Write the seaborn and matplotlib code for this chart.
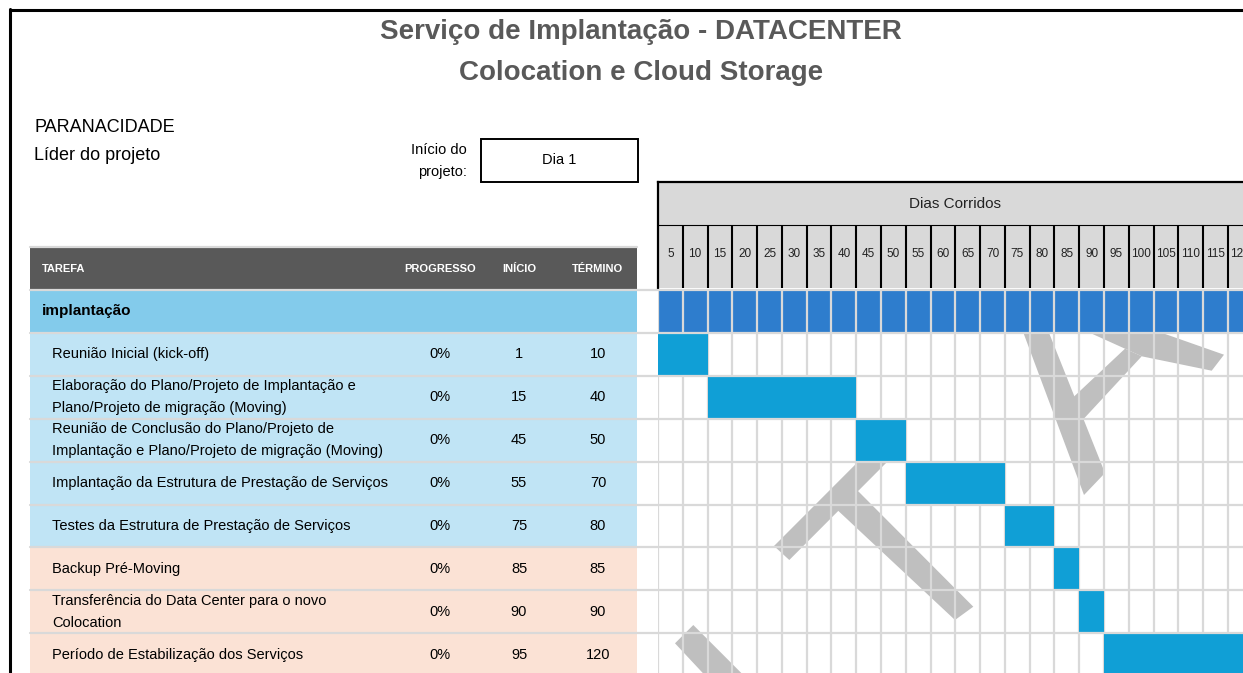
import numpy as np
import matplotlib
matplotlib.use("Agg")
import matplotlib.pyplot as plt
from matplotlib.colors import ListedColormap
from matplotlib.patches import Polygon, Rectangle
from matplotlib.lines import Line2D
import seaborn as sns

# Dados do cronograma
titulo = ["Serviço de Implantação - DATACENTER", "Colocation e Cloud Storage"]
empresa = "PARANACIDADE"
lider = "Líder do projeto"
rotulo_inicio = "Início do\nprojeto:"
inicio_projeto = "Dia 1"

colunas = ["TAREFA", "PROGRESSO", "INÍCIO", "TÉRMINO"]
fase = "implantação"
tarefas = [
    "Reunião Inicial (kick-off)",
    "Elaboração do Plano/Projeto de Implantação e\nPlano/Projeto de migração (Moving)",
    "Reunião de Conclusão do Plano/Projeto de\nImplantação e Plano/Projeto de migração (Moving)",
    "Implantação da Estrutura de Prestação de Serviços",
    "Testes da Estrutura de Prestação de Serviços",
    "Backup Pré-Moving",
    "Transferência do Data Center para o novo\nColocation",
    "Período de Estabilização dos Serviços",
]
grupo = ["implantacao", "implantacao", "implantacao", "implantacao", "implantacao",
         "moving", "moving", "moving"]
progresso = [0, 0, 0, 0, 0, 0, 0, 0]
inicio = [1, 15, 45, 55, 75, 85, 90, 95]
termino = [10, 40, 50, 70, 80, 85, 90, 120]
dias = [5, 10, 15, 20, 25, 30, 35, 40, 45, 50, 55, 60,
        65, 70, 75, 80, 85, 90, 95, 100, 105, 110, 115, 120]

# cores
cor_barra = "#109FD6"
cor_fase = "#2E7DCD"
cor_grade = "#D9D9D9"
cor_linha = {"implantacao": "#C0E4F5", "moving": "#FBE2D5"}

sns.set_theme(style="white")
plt.rcParams["font.family"] = ["Liberation Sans", "DejaVu Sans"]

W, H = 1243, 673
fig = plt.figure(figsize=(W / 100, H / 100), dpi=100)


def px_axes(l, t, r, b):
    return fig.add_axes([l / W, 1 - b / H, (r - l) / W, (b - t) / H])


def fpt(x, y):
    return (x / W, 1 - y / H)


def fline(x0, y0, x1, y1, **kw):
    (a, b), (c, d) = fpt(x0, y0), fpt(x1, y1)
    fig.add_artist(Line2D([a, c], [b, d], transform=fig.transFigure, **kw))


topo = 290
alt = 42.9
esq = 658
larg = 24.78
n_lin = len(tarefas) + 1

# matriz do gantt: 2 = fase, 1 = tarefa
mat = np.full((n_lin, len(dias)), np.nan)
for j, d in enumerate(dias):
    if d >= min(inicio) and d - 4 <= max(termino):
        mat[0, j] = 2
    for i, (s, e) in enumerate(zip(inicio, termino)):
        if d >= s and d - 4 <= e:
            mat[i + 1, j] = 1

ax_g = px_axes(esq, topo, esq + len(dias) * larg, topo + n_lin * alt)
sns.heatmap(mat, ax=ax_g, cmap=ListedColormap([cor_barra, cor_fase]), vmin=0.5, vmax=2.5,
            cbar=False, xticklabels=False, yticklabels=False)
ax_g.collections[0].set_zorder(1)
ax_g.set_facecolor("white")
for s in ax_g.spines.values():
    s.set_visible(False)
xs = np.arange(len(dias) + 1)
ax_g.vlines(xs, 1, n_lin, colors=cor_grade, lw=1.6, zorder=0.8)
ax_g.vlines(xs, 0, 1, colors=cor_grade, lw=1.6, zorder=3)

# marca d'agua cinza
formas = [
    [(1018.6, 320), (1043.9, 320), (1105, 473), (1084, 495)],
    [(1125, 348.7), (1141.7, 356.3), (1078, 425), (1065, 405)],
    [(1066, 322), (1131, 322), (1224, 354.7), (1211.7, 370.7), (1141.7, 356.3), (1125, 348.7)],
    [(774, 546), (789.3, 560), (906, 443), (891.4, 428.4)],
    [(852, 485), (973.3, 606.7), (955, 620), (832, 505)],
    [(693.3, 625), (760, 691.7), (728, 700), (675, 643.3)],
]
for f in formas:
    ax_g.add_patch(Polygon([fpt(x, y) for x, y in f], closed=True, transform=fig.transFigure,
                           facecolor="#BFBFBF", edgecolor="none", zorder=0.3))

# cabeçalho dos dias
ax_h = px_axes(esq, 182, esq + len(dias) * larg, 288)
ax_h.set_facecolor("#D9D9D9")
ax_h.set_xlim(0, len(dias))
ax_h.set_ylim(0, 1)
ax_h.set_xticks([])
ax_h.set_yticks([])
for k, s in ax_h.spines.items():
    s.set_visible(k in ("top", "left"))
    s.set_color("black")
    s.set_linewidth(1.6)
y_div = 63 / 106
ax_h.axhline(y_div, color="black", lw=0.8)
ax_h.vlines(np.arange(1, len(dias)), 0, y_div, colors="black", lw=1.5)
for j, d in enumerate(dias):
    ax_h.text(j + 0.5, y_div / 2 + 0.02, str(d), ha="center", va="center", fontsize=8.5, color="#222222")
ax_h.text(len(dias) / 2, (1 + y_div) / 2, "Dias Corridos", ha="center", va="center", fontsize=11,
          color="#222222")

# tabela
ax_t = px_axes(30, topo - alt, 637, topo + n_lin * alt)
ax_t.set_xlim(30, 637)
ax_t.set_ylim(n_lin, -1)
ax_t.set_xticks([])
ax_t.set_yticks([])
for s in ax_t.spines.values():
    s.set_visible(False)
ax_t.axhspan(-1, 0, color="#595959", lw=0)
ax_t.axhspan(0, 1, color="#83CBEB", lw=0)
for i, g in enumerate(grupo):
    ax_t.axhspan(i + 1, i + 2, color=cor_linha[g], lw=0)

hx = [42, 440, 519, 598]
ax_t.text(hx[0], -0.5, colunas[0], ha="left", va="center", color="white", fontsize=8, fontweight="bold")
for x, c in zip(hx[1:], colunas[1:]):
    ax_t.text(x, -0.5, c, ha="center", va="center", color="white", fontsize=8, fontweight="bold")
ax_t.text(42, 0.5, fase, ha="left", va="center", fontsize=11, fontweight="bold", color="black")
for i in range(len(tarefas)):
    y = i + 1.5
    ax_t.text(52, y, tarefas[i], ha="left", va="center", fontsize=10.5, color="black", linespacing=1.72)
    ax_t.text(hx[1], y, f"{progresso[i]}%", ha="center", va="center", fontsize=10.5, color="black")
    ax_t.text(hx[2], y, str(inicio[i]), ha="center", va="center", fontsize=10.5, color="black")
    ax_t.text(hx[3], y, str(termino[i]), ha="center", va="center", fontsize=10.5, color="black")

# linhas horizontais da grade
fline(30, topo - alt, 637, topo - alt, color=cor_grade, lw=1.6)
for i in range(n_lin + 1):
    y = topo + i * alt
    fline(30, y, W, y, color=cor_grade, lw=1.6)

# textos superiores
fig.text(*fpt(641, 32), titulo[0], ha="center", va="center", fontsize=20, fontweight="bold", color="#595959")
fig.text(*fpt(641, 73), titulo[1], ha="center", va="center", fontsize=20, fontweight="bold", color="#595959")
fig.text(*fpt(34, 128), empresa, ha="left", va="center", fontsize=13, color="black")
fig.text(*fpt(34, 155), lider, ha="left", va="center", fontsize=13, color="black")
fig.text(*fpt(467, 161), rotulo_inicio, ha="right", va="center", fontsize=10.5, color="black", linespacing=1.68)
fig.add_artist(Rectangle(fpt(481, 182), (638 - 481) / W, (182 - 139) / H, transform=fig.transFigure,
                         facecolor="white", edgecolor="black", lw=1.4))
fig.text(*fpt(559.5, 160), inicio_projeto, ha="center", va="center", fontsize=10.5, color="black")

# moldura
fline(9.5, 9.5, W, 9.5, color="black", lw=2.2)
fline(9.5, 8.5, 9.5, H, color="black", lw=2.2)

fig.savefig("out.png", dpi=100, facecolor="white")
